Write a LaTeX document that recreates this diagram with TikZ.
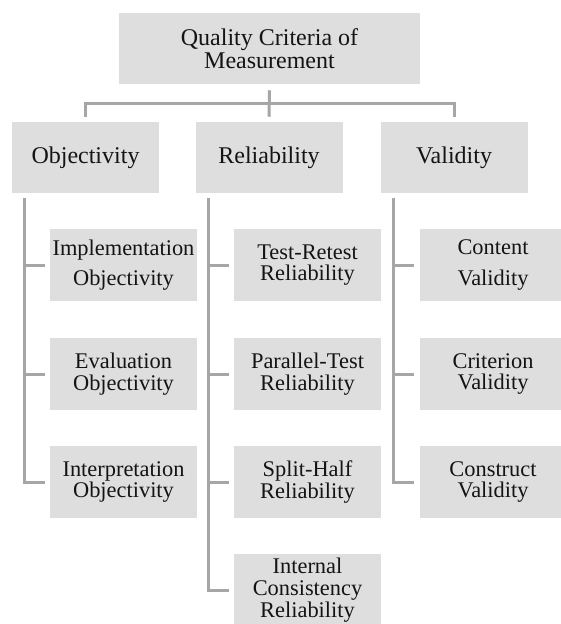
\documentclass[tikz,border=0pt]{standalone}
\usepackage{fontspec}
\setmainfont{Liberation Serif}
\definecolor{boxfill}{HTML}{DEDEDE}
\definecolor{linecol}{HTML}{A6A6A6}
\definecolor{txtcol}{HTML}{141414}
\tikzset{
  box/.style={fill=boxfill, draw=none, text=txtcol, align=center, inner sep=0pt,
    font=\fontsize{16.8}{16.3}\selectfont},
  loose/.style={font=\fontsize{16.8}{23}\selectfont},
  topbox/.style={box, minimum width=225.75pt, minimum height=53.25pt, font=\fontsize{18}{17.3}\selectfont},
  lvlbox/.style={box, minimum width=110.25pt, minimum height=53.25pt, font=\fontsize{18}{17.3}\selectfont},
  subbox/.style={box, minimum width=110.25pt, minimum height=54pt},
  conn/.style={draw=linecol, line width=2.25pt}
}
\begin{document}
\begin{tikzpicture}[x=0.75pt,y=-0.75pt]
\useasboundingbox (0,0) rectangle (560,624);
\fill[white] (0,0) rectangle (560,624);
% nodes
\node[topbox] (top) at (269.5,48.5) {Quality Criteria of\\Measurement};
\node[lvlbox] (obj) at (85.5,157.5) {Objectivity};
\node[lvlbox] (rel) at (269,157.5) {Reliability};
\node[lvlbox] (val) at (454,157.5) {Validity};
% objectivity
\node[subbox,loose] (impl) at (123.5,265) {Implementation\\Objectivity};
\node[subbox] (eval) at (123.5,374) {Evaluation\\Objectivity};
\node[subbox] (interp) at (123.5,482) {Interpretation\\Objectivity};
% reliability
\node[subbox] (trt) at (307.5,265) {Test-Retest\\Reliability};
\node[subbox] (par) at (307.5,374) {Parallel-Test\\Reliability};
\node[subbox] (split) at (307.5,482) {Split-Half\\Reliability};
\node[subbox] (intc) at (307.5,590) {Internal\\Consistency\\Reliability};
% validity
\node[subbox,loose] (cont) at (493,265) {Content\\Validity};
\node[subbox] (crit) at (493,374) {Criterion\\Validity};
\node[subbox] (constr) at (493,482) {Construct\\Validity};
% top connectors
\coordinate (bus) at (269,104);
\draw[conn] ([yshift=-4.5pt]top.south) -- ([yshift=3.75pt]rel.north);
\draw[conn] ([yshift=3.75pt]obj.north) |- (bus) -| ([yshift=3.75pt]val.north);
% spines
\coordinate (objsp) at (24,198);
\coordinate (relsp) at (208,198);
\coordinate (valsp) at (393,198);
\draw[conn] (objsp) |- ([xshift=-3.75pt]interp.west);
\draw[conn] (impl.west -| objsp) -- ([xshift=-3.75pt]impl.west);
\draw[conn] (eval.west -| objsp) -- ([xshift=-3.75pt]eval.west);
\draw[conn] (relsp) |- ([xshift=-3.75pt]intc.west);
\draw[conn] (trt.west -| relsp) -- ([xshift=-3.75pt]trt.west);
\draw[conn] (par.west -| relsp) -- ([xshift=-3.75pt]par.west);
\draw[conn] (split.west -| relsp) -- ([xshift=-3.75pt]split.west);
\draw[conn] (valsp) |- ([xshift=-3.75pt]constr.west);
\draw[conn] (cont.west -| valsp) -- ([xshift=-3.75pt]cont.west);
\draw[conn] (crit.west -| valsp) -- ([xshift=-3.75pt]crit.west);
\end{tikzpicture}
\end{document}
